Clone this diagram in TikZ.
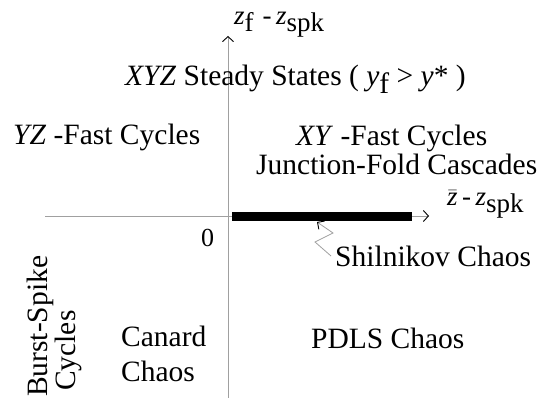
\documentclass[tikz,border=0pt]{standalone}
\usepackage{fontspec}
\setmainfont{Liberation Serif}
\usetikzlibrary{arrows.meta}
\definecolor{axisgray}{RGB}{160,160,160}
\newcommand{\lowsub}[1]{\raisebox{-0.24em}{#1}}
\tikzset{
  lbl/.style={anchor=base west, inner sep=0pt, font=\fontsize{29.5}{33}\selectfont},
  axlbl/.style={anchor=base west, inner sep=0pt, font=\fontsize{27}{30}\selectfont},
  axisline/.style={draw=axisgray, line width=0.9pt, -{Straight Barb[length=5pt,width=11pt,color=black,line width=0.9pt]}},
}
\begin{document}
\begin{tikzpicture}[x=1pt,y=-1pt]
\useasboundingbox[fill=white] (0,0) rectangle (549,398);
% axes
\coordinate (vbot) at (228,398);
\coordinate (vtop) at (228,36);
\coordinate (hleft) at (45,216);
\coordinate (hright) at (429,216);
\draw[axisline] (vbot) -- (vtop);
\draw[axisline] (hleft) -- (hright);
% thick bar
\coordinate (barA) at (232,217);
\coordinate (barB) at (412,217);
\draw[line width=9pt] (barA) -- (barB);
% axis labels
\node[axlbl] (zlab) at (234,25) {\textit{z}\lowsub{f}\,\,-\,\textit{z}\lowsub{spk}};
\node[axlbl] (hlab) at (447,206) {$\bar{\textit{z}}$\,-\,\textit{z}\lowsub{spk}};
\node[lbl, font=\fontsize{26}{30}\selectfont] (zero) at (201,247) {0};
% region labels
\node[lbl] (xyz) at (125,86) {\textit{XYZ} Steady States ( \textit{y}\lowsub{f} > \textit{y}* )};
\node[lbl] (yz) at (13,145) {\textit{YZ} -Fast Cycles};
\node[lbl] (xy) at (296,146) {\textit{XY} -Fast Cycles};
\node[lbl] (jf) at (256,175) {Junction-Fold Cascades};
\node[lbl] (shil) at (335,267) {Shilnikov Chaos};
\node[lbl] (pdls) at (311,348) {PDLS Chaos};
\node[lbl] (can1) at (121,346) {Canard};
\node[lbl] (can2) at (121,381) {Chaos};
\node[lbl, rotate=90] (bs1) at (47,397) {Burst-Spike};
\node[lbl, rotate=90] (bs2) at (75,391) {Cycles};
% Shilnikov pointer
\coordinate (p0) at (317,222);
\coordinate (p1) at (333,233);
\coordinate (p2) at (315,242);
\coordinate (p3) at (331,256);
\draw[draw=axisgray, line width=0.8pt, {Straight Barb[length=5pt,width=10pt,color=black,line width=0.9pt]}-] (p0) -- (p1) -- (p2) -- (p3);
\end{tikzpicture}
\end{document}
